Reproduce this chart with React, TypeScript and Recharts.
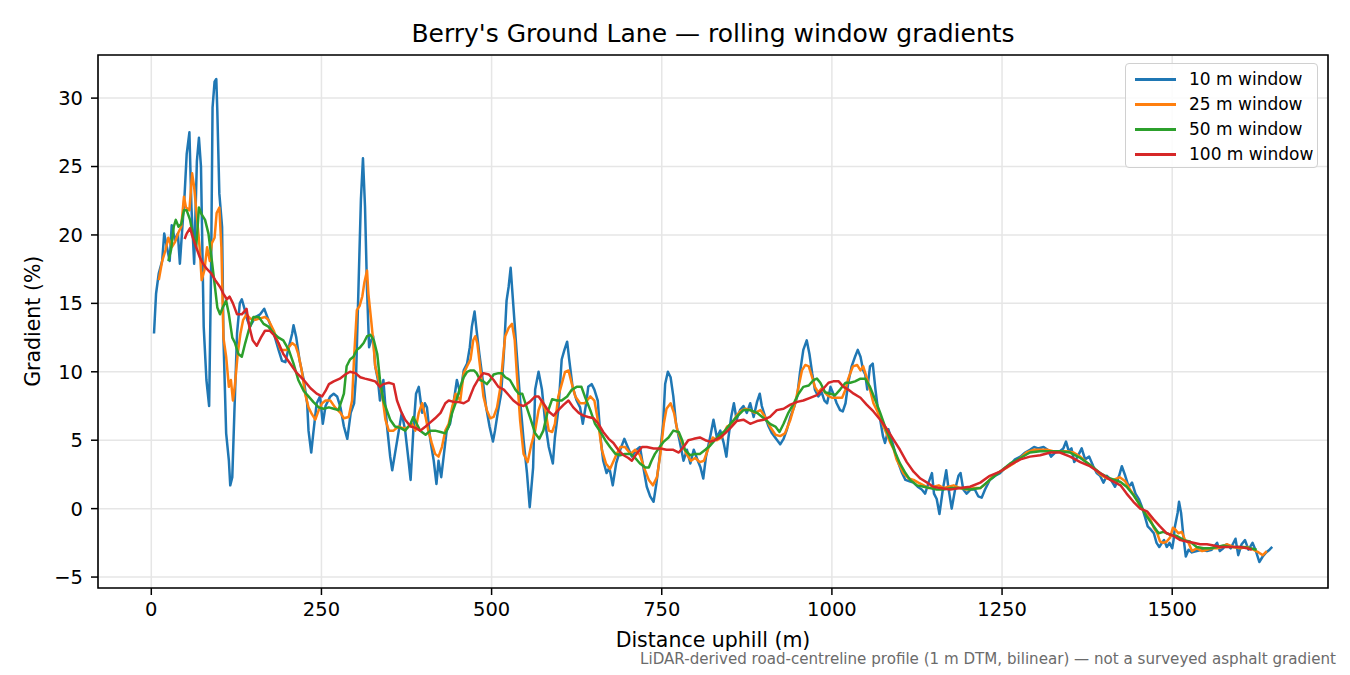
import {
  CartesianGrid,
  Legend,
  Line,
  LineChart,
  ReferenceArea,
  XAxis,
  YAxis,
} from "recharts";

// ── data (distance m, gradient %) ────────────────────────────────────────────

const w10Dist = [
  4, 7, 11, 16, 19, 23, 27, 30, 35, 39, 42, 45, 49, 52, 56, 59, 63, 67, 70, 73, 77, 81, 85, 88, 90, 93, 95.5, 97, 100, 104,
  106, 110, 114, 116, 119, 122, 126, 130, 133, 137, 141, 145, 153, 160, 166, 172, 180, 187, 192, 197, 202, 207, 209, 213, 218, 224, 229, 231, 235, 238,
  243, 248, 252, 256, 263, 268, 273, 278, 283, 288, 293, 298, 301, 305, 308, 311, 314, 317, 320, 323, 326, 329, 333, 336, 341, 346, 351, 354, 358, 363,
  368, 373, 378, 381, 385, 389, 393, 398, 402, 405, 410, 415, 419, 422, 426, 430, 434, 439, 444, 449, 454, 459, 464, 468, 471, 475, 478, 482, 487, 492,
  497, 502, 505, 509, 514, 518, 522, 525, 528, 532, 537, 542, 547, 552, 556, 561, 564, 569, 574, 579, 584, 590, 593, 598, 603, 607, 611, 614, 619, 625,
  630, 634, 639, 642, 647, 651, 656, 660, 664, 669, 673, 678, 683, 689, 695, 700, 706, 713, 718, 723, 728, 733, 738, 742, 747, 752, 755, 759, 763, 767,
  771, 776, 782, 787, 792, 797, 803, 807, 811, 815, 821, 826, 831, 836, 841, 845, 848, 852, 856, 860, 865, 870, 875, 880, 885, 890, 894, 897, 902, 907,
  912, 918, 924, 929, 934, 939, 945, 949, 953, 958, 963, 967, 971, 975, 980, 985, 989, 993, 998, 1002, 1007, 1012, 1016, 1020, 1024, 1029, 1034, 1038, 1042, 1046,
  1049, 1052, 1056, 1060, 1064, 1067, 1071, 1075, 1078, 1083, 1088, 1093, 1098, 1103, 1108, 1114, 1120, 1126, 1132, 1137, 1142, 1147, 1150, 1154, 1158, 1163, 1168, 1171, 1176, 1181,
  1186, 1189, 1193, 1198, 1204, 1210, 1215, 1220, 1225, 1232, 1240, 1247, 1255, 1262, 1269, 1277, 1284, 1291, 1297, 1303, 1311, 1317, 1322, 1328, 1335, 1340, 1344, 1348, 1352, 1356,
  1361, 1367, 1372, 1378, 1384, 1389, 1394, 1399, 1404, 1410, 1416, 1422, 1426, 1431, 1436, 1441, 1446, 1451, 1455, 1460, 1464, 1468, 1473, 1477, 1481, 1485, 1488, 1492, 1496, 1500,
  1502, 1504, 1508, 1510, 1513, 1517, 1520, 1524, 1529, 1536, 1544, 1551, 1558, 1566, 1570, 1575, 1580, 1586, 1593, 1597, 1602, 1607, 1612, 1618, 1623, 1628, 1633, 1638, 1643, 1647,
];
const w10Grad = [
  12.8, 15.7, 17.2, 18.1, 20.1, 19.1, 18.1, 20.7, 19.6, 20.1, 17.9, 20.1, 23, 25.9, 27.5, 22, 17.9, 25.4, 27.1, 25, 13.3, 9.4, 7.5, 18.1, 29.3, 31.2, 31.4, 29.1, 23, 20.6,
  12.5, 5.5, 3.5, 1.7, 2.3, 6.9, 12.8, 15, 15.3, 14.6, 13.8, 13.3, 14, 14.2, 14.6, 13.8, 12.8, 11.6, 10.8, 10.7, 11.8, 12.8, 13.4, 12.5, 10.8, 9.4, 7.7, 5.7, 4.1, 5.5,
  7.7, 8.2, 6.2, 7.5, 8.2, 8.4, 8.2, 7.4, 6, 5.1, 7, 7.7, 9.9, 17.2, 22.6, 25.6, 22.1, 16, 11.8, 12.3, 12.6, 10.4, 9.4, 7.9, 9.4, 6.2, 3.8, 2.8, 4, 5.5,
  7, 5.7, 3.5, 2.1, 5.7, 8.4, 8.9, 7, 7.7, 7.4, 5, 3.5, 1.8, 3.5, 2.3, 4, 5.7, 6.2, 7.7, 9.4, 8.4, 10.1, 10.6, 11.8, 13.3, 14.4, 13, 11.3, 9.4, 7.4,
  6, 4.9, 5.7, 7, 8.4, 11.3, 15.2, 16.2, 17.6, 14.8, 11.3, 7.9, 5, 2.6, 0.1, 3, 8.7, 10, 8.7, 6.2, 4.5, 3.3, 5.2, 7.2, 10.9, 11.6, 12.2, 10.9, 8.9, 7.9,
  7.4, 6.2, 7.7, 8.9, 9.1, 8.7, 7.9, 5.2, 3.5, 2.6, 3, 1.7, 3.3, 4.3, 5.1, 4.5, 3.8, 4.3, 4.5, 3, 1.6, 0.9, 0.5, 1.8, 3.8, 6.2, 9.1, 10, 9.6, 8.2,
  6.2, 5, 3.5, 4.3, 3.3, 4.3, 3.5, 3, 2.2, 3.8, 5.2, 6.5, 5.2, 5.7, 4.8, 3.8, 5.2, 6.7, 7.7, 6.5, 7.2, 7.5, 7, 7.7, 6.7, 7.8, 8.4, 7.5, 6.7, 6,
  5.5, 5.1, 4.7, 5.1, 5.8, 6.7, 7.5, 8.2, 9.9, 11.6, 12.3, 11.3, 9.9, 8.7, 8.2, 8.5, 7.9, 7.7, 8.9, 8.4, 7.7, 7.2, 7.1, 7.7, 9.2, 10.4, 11.1, 11.6, 11.1, 10.1,
  9.8, 8.7, 10.4, 10.6, 8.7, 7.5, 6.5, 5.3, 4.8, 5.8, 5, 4.1, 3.3, 2.6, 2.1, 2, 1.9, 1.6, 1.4, 1.1, 1.9, 2.6, 1.1, 0.7, -0.4, 1.4, 2.8, 1.6, 0, 1.4,
  2.4, 2.6, 1.4, 1.1, 1.4, 1.4, 0.9, 0.8, 1.4, 2.1, 2.4, 2.6, 3, 3.2, 3.6, 3.8, 4.1, 4.3, 4.5, 4.4, 4.5, 4.3, 3.8, 4.1, 4.2, 4.4, 4.9, 4.2, 4.4, 3.4,
  3.8, 4.4, 3.6, 3.8, 3.1, 2.6, 2.4, 1.9, 2.4, 2.1, 1.6, 2.4, 3.1, 2.4, 1.6, 1.9, 1.1, 0.7, 0.2, -0.6, -1.3, -1.5, -1.8, -2.5, -2.8, -2.5, -2.3, -2.8, -2.5, -2.9,
  -2.3, -1.3, -0.3, 0.5, -0.3, -2.3, -3.5, -3, -3.2, -3.1, -3, -3.1, -3, -2.5, -3.1, -2.9, -2.6, -2.9, -2.2, -3.4, -2.6, -2.3, -3, -2.5, -3.1, -3.9, -3.5, -3.2, -3, -2.8,
];

const w25Dist = [
  11, 16, 21, 25, 30, 35, 40, 44, 48, 51, 56, 60, 63, 67, 71, 74, 78, 82, 86, 89, 93, 96, 100, 103, 106, 110, 114, 117, 120, 123,
  127, 131, 135, 140, 145, 153, 160, 167, 172, 180, 190, 199, 207, 212, 216, 221, 226, 231, 236, 241, 246, 251, 256, 263, 270, 278, 283, 290, 295, 298,
  302, 306, 310, 313, 317, 319, 323, 326, 329, 334, 339, 344, 349, 356, 363, 368, 376, 383, 388, 393, 398, 403, 407, 412, 417, 422, 427, 432, 437, 442,
  447, 454, 459, 464, 469, 473, 476, 479, 483, 488, 493, 498, 503, 508, 513, 517, 520, 525, 530, 534, 537, 542, 547, 553, 558, 564, 569, 574, 579, 584,
  589, 593, 598, 603, 608, 613, 618, 623, 630, 637, 645, 651, 656, 662, 668, 674, 682, 689, 696, 704, 711, 718, 724, 731, 737, 743, 748, 753, 757, 763,
  768, 773, 780, 786, 793, 799, 806, 812, 819, 825, 831, 838, 846, 853, 860, 865, 873, 880, 887, 895, 902, 909, 917, 924, 931, 939, 946, 951, 956, 961,
  966, 971, 975, 980, 985, 993, 1000, 1007, 1015, 1020, 1024, 1031, 1037, 1042, 1046, 1051, 1056, 1061, 1066, 1071, 1076, 1081, 1086, 1091, 1095, 1100, 1105, 1113, 1120, 1127,
  1135, 1142, 1149, 1157, 1164, 1171, 1179, 1188, 1198, 1208, 1218, 1228, 1237, 1247, 1257, 1267, 1277, 1286, 1296, 1306, 1316, 1325, 1335, 1345, 1355, 1365, 1374, 1384, 1394, 1404,
  1414, 1423, 1431, 1438, 1446, 1453, 1460, 1468, 1473, 1478, 1482, 1487, 1492, 1497, 1501, 1504, 1509, 1514, 1519, 1524, 1529, 1536, 1544, 1551, 1558, 1566, 1573, 1580, 1590, 1600,
  1610, 1619, 1627, 1633, 1639,
];
const w25Grad = [
  16.7, 18.1, 18.9, 19.8, 19.1, 19.5, 20.2, 20.6, 22.8, 22, 21.8, 24.5, 23.5, 21.3, 19.1, 16.7, 17.4, 19.1, 18.1, 19.4, 19.8, 21.6, 22, 19.1, 12.5, 11.1, 8.9, 9.4, 7.9, 9.1,
  11.3, 12.8, 13.8, 14.2, 13.9, 13.8, 13.9, 14, 13.8, 13, 11.6, 11.6, 12.1, 11.9, 11.3, 10.1, 8.4, 7.4, 6.9, 6.5, 7.2, 7.7, 7.9, 7.9, 7.4, 7, 6.6, 6.7, 7.9, 11.1,
  14.5, 14.8, 15.5, 16.5, 17.4, 15.7, 13.8, 12.3, 10.4, 9.4, 8.4, 6.5, 5.7, 5.7, 6, 5.9, 5.9, 6.2, 5.7, 7, 7.7, 6.7, 5.7, 4.8, 4, 3.8, 4.5, 5.7, 6.2, 7.4,
  8.4, 7.9, 9.9, 10.4, 10.9, 12.3, 12.6, 12.1, 10.4, 8.2, 7.2, 6.6, 6.7, 7.4, 8.9, 11.1, 12.6, 13.2, 13.5, 12.3, 9.9, 6.4, 4, 3.4, 4.6, 5.7, 7.2, 7.9, 7.2, 5.7,
  5.6, 6.2, 8.2, 9.1, 10, 10.1, 9.1, 8.2, 7.7, 7.7, 8.2, 7.9, 6.5, 4.3, 3.3, 2.9, 3.8, 4.5, 4.5, 4, 4.3, 3.9, 3, 2.1, 1.7, 2.3, 4, 6.2, 7.3, 7.7,
  7, 5.7, 4.8, 4, 3.5, 3.7, 3.4, 3.5, 4.5, 5.2, 5, 5.2, 6, 6.2, 6.8, 7.1, 7.3, 7.2, 7, 7.2, 6.7, 6, 5.4, 5.3, 5.5, 6.5, 7.7, 8.9, 10.1, 10.5,
  10.4, 9.6, 8.9, 8.5, 8.8, 8.3, 8.1, 8.1, 8.1, 8.7, 9.5, 10.4, 10.5, 10.1, 10.4, 9.6, 8.7, 7.7, 7.2, 6.6, 6, 5.4, 4.8, 4.3, 3.6, 3.1, 2.6, 2.2, 2.1, 1.9,
  1.7, 1.5, 1.6, 1.7, 1.5, 1.6, 1.7, 1.5, 1.4, 1.5, 1.5, 1.9, 2.4, 2.7, 3, 3.3, 3.7, 4.1, 4.3, 4.3, 4.3, 4.2, 4.2, 4.2, 4.1, 3.8, 3.4, 3, 2.5, 2.2,
  2.1, 2.3, 2, 1.4, 0.8, 0.2, -0.3, -0.8, -1.4, -1.8, -2.4, -2.5, -2.4, -2.1, -1.4, -1.5, -1.8, -1.7, -2.3, -2.5, -3.1, -2.9, -3.1, -3, -2.9, -2.9, -2.8, -2.6, -2.8, -2.9,
  -2.8, -3, -3.2, -3.4, -3.1,
];

const w50Dist = [
  25, 29, 33, 36, 40, 44, 48, 52, 57, 62, 66, 70, 74, 79, 84, 89, 94, 97, 101, 105, 110, 114, 119, 123, 128, 133, 138, 143, 150, 158,
  165, 172, 180, 187, 194, 202, 209, 216, 224, 231, 238, 246, 253, 261, 268, 275, 283, 287, 292, 297, 302, 307, 312, 317, 322, 327, 332, 336, 341, 346,
  351, 358, 366, 373, 381, 385, 390, 395, 403, 410, 417, 425, 432, 437, 442, 447, 454, 459, 464, 469, 474, 478, 483, 488, 493, 498, 503, 510, 515, 520,
  527, 535, 540, 545, 549, 557, 564, 570, 576, 582, 589, 596, 603, 611, 618, 625, 632, 637, 645, 652, 660, 667, 674, 682, 689, 696, 704, 711, 718, 726,
  731, 735, 740, 747, 753, 760, 767, 775, 780, 784, 792, 799, 806, 814, 821, 828, 836, 843, 851, 860, 870, 880, 890, 900, 909, 917, 923, 929, 936, 944,
  951, 958, 966, 973, 978, 983, 990, 998, 1005, 1012, 1020, 1027, 1034, 1042, 1049, 1056, 1064, 1071, 1078, 1086, 1093, 1100, 1108, 1115, 1125, 1135, 1144, 1154, 1164, 1174,
  1188, 1203, 1218, 1232, 1247, 1262, 1277, 1291, 1306, 1321, 1335, 1350, 1365, 1379, 1394, 1409, 1424, 1433, 1443, 1453, 1463, 1473, 1480, 1487, 1497, 1507, 1517, 1526, 1536, 1546,
  1556, 1566, 1575, 1585, 1595, 1605, 1615, 1624,
];
const w50Grad = [
  18.1, 18.9, 20.6, 21.1, 20.6, 20.8, 21.8, 21.8, 21.1, 19.8, 19.1, 22, 21.5, 21.1, 20.1, 18.1, 16, 14.7, 14.2, 14.7, 15.2, 14.2, 12.5, 12.1, 11.3, 11.1, 12.1, 13, 14, 14,
  13.5, 13.3, 12.8, 12.5, 12.3, 11.6, 10.6, 9.4, 8.6, 8.2, 7.8, 7.4, 7.3, 7.4, 7.3, 7.2, 8.4, 10.4, 10.9, 11.1, 11.6, 11.8, 12.1, 12.6, 12.7, 12.3, 11.3, 9.4, 7.9, 7.2,
  6.5, 6, 5.9, 5.7, 6.2, 6.7, 6.2, 5.7, 5.4, 5.7, 5.7, 5.6, 5.5, 6, 7, 7.7, 8.9, 9.6, 10, 10.1, 10.1, 9.9, 9.4, 9.3, 9.1, 9.4, 9.8, 9.9, 9.9, 9.6,
  9.4, 8.7, 8.4, 8.4, 7.8, 6.6, 5.5, 5.1, 5.7, 7, 8, 7.9, 7.9, 8.2, 8.7, 8.9, 8.9, 8.2, 7.2, 6.2, 5.6, 5, 4.5, 4, 3.9, 4, 4, 3.7, 3.3, 3,
  3, 3.5, 4, 4.5, 4.9, 5.2, 5.7, 5.6, 5, 4.3, 3.9, 4, 4, 4.3, 4.6, 5, 5.4, 5.7, 6.2, 6.7, 7.2, 7.2, 7, 6.6, 6.2, 6, 5.6, 6.2, 7, 7.7,
  8.4, 8.9, 9, 9.4, 9.5, 9.2, 8.5, 8.4, 8.3, 8.7, 9.2, 9.2, 9.3, 9.5, 9.5, 8.9, 7.9, 7, 6, 5, 4.1, 3.3, 2.6, 2.1, 1.7, 1.6, 1.5, 1.4, 1.4, 1.5,
  1.5, 1.4, 1.5, 2.1, 2.7, 3.3, 3.7, 4.1, 4.2, 4.2, 4.2, 4.1, 3.7, 3.2, 2.6, 2.2, 1.95, 1.6, 1, 0.25, -0.6, -1.3, -1.8, -1.7, -1.9, -2, -2.3, -2.4, -2.8, -2.9,
  -2.9, -2.8, -2.7, -2.8, -2.8, -2.8, -2.9, -3,
];

const w100Dist = [
  49, 52, 57, 61, 66, 71, 76, 82, 88, 94, 101, 106, 111, 115, 120, 126, 133, 140, 144, 149, 155, 161, 167, 174, 180, 187, 194, 204, 214, 224,
  234, 243, 251, 256, 261, 268, 277, 285, 292, 300, 307, 314, 322, 329, 336, 341, 349, 356, 361, 367, 373, 381, 388, 395, 403, 410, 417, 425, 432, 437,
  444, 451, 459, 466, 474, 481, 488, 496, 503, 510, 518, 525, 532, 540, 547, 556, 564, 569, 576, 584, 591, 598, 606, 613, 620, 628, 635, 642, 650, 657,
  664, 672, 679, 686, 694, 701, 706, 713, 721, 728, 738, 748, 757, 767, 775, 782, 789, 797, 806, 814, 821, 828, 836, 843, 851, 860, 870, 880, 890, 900,
  909, 919, 929, 939, 949, 958, 968, 978, 988, 995, 1002, 1010, 1017, 1024, 1032, 1042, 1051, 1061, 1071, 1081, 1091, 1100, 1110, 1120, 1130, 1140, 1149, 1159, 1174, 1188,
  1203, 1218, 1232, 1247, 1262, 1277, 1291, 1306, 1321, 1335, 1350, 1365, 1379, 1394, 1409, 1424, 1433, 1443, 1453, 1463, 1473, 1482, 1492, 1502, 1512, 1521, 1531, 1541, 1551, 1561,
  1570, 1580, 1590, 1600, 1610, 1617,
];
const w100Grad = [
  19.7, 20.1, 20.5, 19.8, 19.1, 18.4, 17.9, 17.5, 17.2, 16.7, 16.2, 15.7, 15.3, 15.5, 15, 14.2, 14.2, 14.6, 13.3, 12.3, 11.9, 12.5, 13, 13, 12.7, 12.1, 11.3, 10.6, 9.9, 9.4,
  8.8, 8.4, 8.2, 8.6, 9.1, 9.3, 9.5, 9.8, 10, 9.9, 9.6, 9.5, 9.4, 9.3, 8.9, 9.1, 9.2, 9.1, 7.9, 7.1, 6.5, 6, 5.9, 5.7, 6, 6.3, 6.6, 7, 7.7, 7.9,
  7.8, 7.8, 7.7, 7.9, 8.9, 9.5, 9.9, 9.8, 9.4, 8.9, 8.7, 8.3, 7.9, 7.6, 7.5, 7.8, 8.2, 8.2, 7.7, 7.1, 6.8, 7.2, 7.6, 7.9, 7.4, 7, 6.8, 6.7, 6.6, 6.2,
  5.6, 5.1, 4.8, 4.3, 3.9, 3.7, 3.5, 4, 4.5, 4.5, 4.4, 4.4, 4.3, 4.3, 4.1, 4.5, 5, 5.1, 5.2, 5, 4.9, 5, 5.2, 5.5, 5.9, 6.4, 6.5, 6.2, 6.4, 6.5,
  6.7, 7.2, 7.3, 7.6, 7.8, 7.9, 8.1, 8.3, 8.8, 9.2, 9.3, 9.3, 8.9, 8.7, 8.4, 8.1, 7.6, 7.1, 6.5, 5.8, 5, 4.3, 3.4, 2.7, 2.2, 1.9, 1.6, 1.5, 1.4, 1.5,
  1.6, 1.9, 2.4, 2.7, 3.2, 3.6, 3.8, 3.9, 4.1, 4.1, 3.8, 3.4, 3.1, 2.6, 2.1, 1.7, 1.1, 0.5, 0, -0.2, -0.8, -1.3, -1.8, -2, -2.3, -2.4, -2.5, -2.6, -2.6, -2.7,
  -2.8, -2.8, -2.8, -2.8, -2.9, -3,
];

const xTicks = [0, 250, 500, 750, 1000, 1250, 1500];
const yTicks = [-5, 0, 5, 10, 15, 20, 25, 30];

// ── series ───────────────────────────────────────────────────────────────────

const toPoints = (xs: number[], ys: number[]) => xs.map((d, i) => ({ d, g: ys[i] }));

const series = [
  { name: "10 m window", color: "#1f77b4", data: toPoints(w10Dist, w10Grad) },
  { name: "25 m window", color: "#ff7f0e", data: toPoints(w25Dist, w25Grad) },
  { name: "50 m window", color: "#2ca02c", data: toPoints(w50Dist, w50Grad) },
  { name: "100 m window", color: "#d62728", data: toPoints(w100Dist, w100Grad) },
];

const X_DOMAIN: [number, number] = [-78.3, 1728.9];
const Y_DOMAIN: [number, number] = [-5.8, 33.15];
const FONT = "'DejaVu Sans', Verdana, sans-serif";

const fmtY = (v: number) => (v < 0 ? `\u2212${Math.abs(v)}` : `${v}`);

function LegendBox() {
  return (
    <div
      style={{
        width: 193,
        height: 105,
        boxSizing: "border-box",
        border: "1.5px solid #d0d0d0",
        borderRadius: 4,
        background: "rgba(255,255,255,0.85)",
        position: "relative",
        fontFamily: FONT,
        fontSize: 17,
        color: "#000",
      }}
    >
      {series.map((s, i) => (
        <div
          key={s.name}
          style={{ position: "absolute", left: 0, top: 5 + i * 25, height: 20, width: 193 }}
        >
          <div
            style={{
              position: "absolute",
              left: 9,
              top: 9,
              width: 41,
              height: 2.6,
              background: s.color,
            }}
          />
          <div style={{ position: "absolute", left: 63, top: 0, lineHeight: "20px", whiteSpace: "nowrap" }}>
            {s.name}
          </div>
        </div>
      ))}
    </div>
  );
}

export default function App() {
  return (
    <div
      style={{
        position: "absolute",
        left: 0,
        top: 0,
        width: 1350,
        height: 675,
        background: "#fff",
        fontFamily: FONT,
      }}
    >
      <div
        style={{
          position: "absolute",
          left: 98,
          width: 1230,
          top: 21,
          fontSize: 25,
          lineHeight: "25px",
          textAlign: "center",
          whiteSpace: "nowrap",
        }}
      >
        Berry's Ground Lane — rolling window gradients
      </div>

      <LineChart
        width={1350}
        height={675}
        margin={{ top: 55, right: 22, bottom: 0, left: 0 }}
      >
        <CartesianGrid stroke="#e6e6e6" strokeWidth={1.5} />
        <XAxis
          type="number"
          dataKey="d"
          domain={X_DOMAIN}
          allowDataOverflow
          ticks={xTicks}
          height={87}
          tickSize={7}
          tickMargin={7}
          axisLine={false}
          tickLine={{ stroke: "#000", strokeWidth: 1.5 }}
          tick={{ fontSize: 19.5, fill: "#000", fontFamily: FONT }}
        />
        <YAxis
          type="number"
          domain={Y_DOMAIN}
          allowDataOverflow
          ticks={yTicks}
          width={98}
          tickSize={7}
          tickMargin={8}
          tickFormatter={fmtY}
          axisLine={false}
          tickLine={{ stroke: "#000", strokeWidth: 1.5 }}
          tick={{ fontSize: 19.5, fill: "#000", fontFamily: FONT }}
        />
        {series.map((s) => (
          <Line
            key={s.name}
            data={s.data}
            dataKey="g"
            name={s.name}
            type="linear"
            stroke={s.color}
            strokeWidth={2.5}
            strokeLinejoin="round"
            dot={false}
            activeDot={false}
            isAnimationActive={false}
          />
        ))}
        <ReferenceArea
          x1={X_DOMAIN[0]}
          x2={X_DOMAIN[1]}
          y1={Y_DOMAIN[0]}
          y2={Y_DOMAIN[1]}
          fill="none"
          fillOpacity={0}
          stroke="#000"
          strokeWidth={1.6}
          ifOverflow="visible"
        />
        <Legend
          layout="vertical"
          align="center"
          verticalAlign="middle"
          content={() => <LegendBox />}
          wrapperStyle={{ left: 1125, top: 63, width: 193, height: 105 }}
        />
      </LineChart>

      <div
        style={{
          position: "absolute",
          left: 98,
          width: 1230,
          top: 630,
          fontSize: 20.5,
          lineHeight: "20.5px",
          textAlign: "center",
          whiteSpace: "nowrap",
        }}
      >
        Distance uphill (m)
      </div>

      <div
        style={{
          position: "absolute",
          left: 33 - 100,
          top: 321 - 10,
          width: 200,
          fontSize: 20.5,
          lineHeight: "20.5px",
          textAlign: "center",
          whiteSpace: "nowrap",
          transform: "rotate(-90deg)",
        }}
      >
        Gradient (%)
      </div>

      <div
        style={{
          position: "absolute",
          right: 1350 - 1336,
          top: 652,
          fontSize: 15.1,
          lineHeight: "15px",
          color: "#6b6b6b",
          whiteSpace: "nowrap",
        }}
      >
        LiDAR-derived road-centreline profile (1 m DTM, bilinear) — not a surveyed asphalt gradient
      </div>
    </div>
  );
}
